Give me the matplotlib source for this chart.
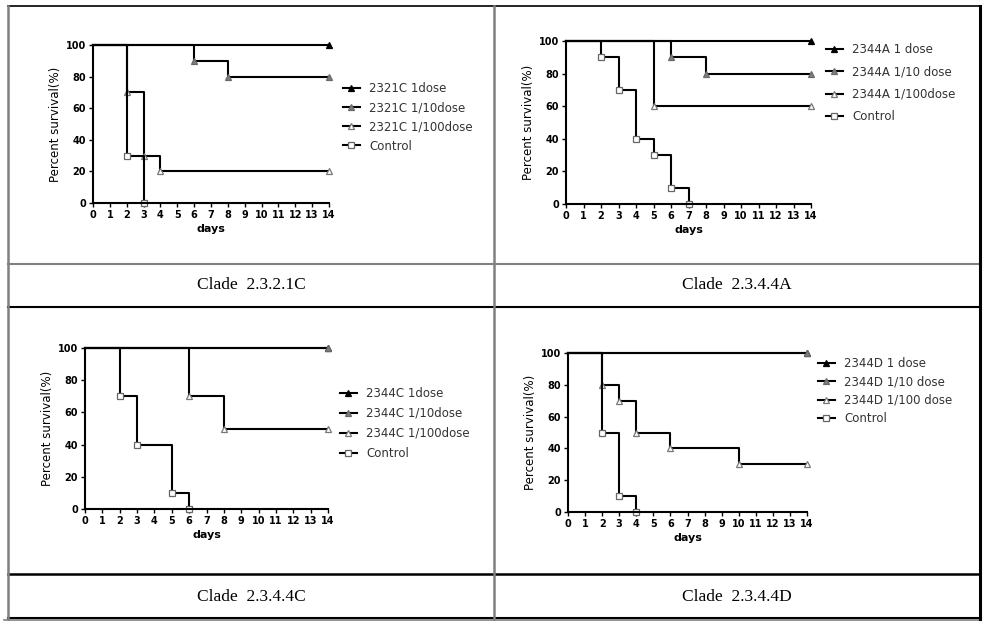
import matplotlib
matplotlib.use("Agg")
import matplotlib.pyplot as plt
from matplotlib.lines import Line2D

W, H = 994, 628

# survival data: (days, percent) per group, start at day 0 with 100%
p1_names = ["2321C 1dose", "2321C 1/10dose", "2321C 1/100dose", "Control"]
p1_days = [[0, 14], [0, 6, 8, 14], [0, 2, 3, 4, 14], [0, 2, 3]]
p1_surv = [[100, 100], [100, 90, 80, 80], [100, 70, 30, 20, 20], [100, 30, 0]]

p2_names = ["2344A 1 dose", "2344A 1/10 dose", "2344A 1/100dose", "Control"]
p2_days = [[0, 14], [0, 6, 8, 14], [0, 5, 14], [0, 2, 3, 4, 5, 6, 7]]
p2_surv = [[100, 100], [100, 90, 80, 80], [100, 60, 60], [100, 90, 70, 40, 30, 10, 0]]

p3_names = ["2344C 1dose", "2344C 1/10dose", "2344C 1/100dose", "Control"]
p3_days = [[0, 14], [0, 14], [0, 6, 8, 14], [0, 2, 3, 5, 6]]
p3_surv = [[100, 100], [100, 100], [100, 70, 50, 50], [100, 70, 40, 10, 0]]

p4_names = ["2344D 1 dose", "2344D 1/10 dose", "2344D 1/100 dose", "Control"]
p4_days = [[0, 14], [0, 14], [0, 2, 3, 4, 6, 10, 14], [0, 2, 3, 4]]
p4_surv = [[100, 100], [100, 100], [100, 80, 70, 50, 40, 30, 30], [100, 50, 10, 0]]

captions = ["Clade  2.3.2.1C", "Clade  2.3.4.4A", "Clade  2.3.4.4C", "Clade  2.3.4.4D"]

# marker style per group (1 dose, 1/10, 1/100, control)
styles = [
    dict(marker="^", mfc="black", mec="black"),
    dict(marker="^", mfc="#7f7f7f", mec="#6a6a6a"),
    dict(marker="^", mfc="white", mec="#777777"),
    dict(marker="s", mfc="white", mec="#666666"),
]


def fx(px):
    return px / W


def fy(py):
    return 1 - py / H


fig = plt.figure(figsize=(W / 100, H / 100), dpi=100)

# panel boxes in pixels: x0, x14, y100, y0, legend x, legend y, legend spacing
panels = [
    (p1_names, p1_days, p1_surv, (93, 329, 45, 203), (343, 82, 18.3)),
    (p2_names, p2_days, p2_surv, (566, 811, 41, 204), (826, 43, 21.5)),
    (p3_names, p3_days, p3_surv, (85, 328, 348, 509), (340, 387, 19)),
    (p4_names, p4_days, p4_surv, (568, 807, 353, 512), (818, 357, 17.5)),
]

for names, days, surv, box, leg in panels:
    x0, x1, y1, y0 = box
    ax = fig.add_axes([fx(x0), fy(y0), fx(x1) - fx(x0), fy(y1) - fy(y0)])
    handles = []
    for name, d, s, st in zip(names, days, surv, styles):
        h, = ax.plot(d, s, drawstyle="steps-post", color="black", lw=1.5,
                     ms=5, mew=0.9, markevery=slice(1, None), clip_on=False,
                     label=name, **st)
        handles.append(h)
    ax.set_xlim(0, 14)
    ax.set_ylim(0, 100)
    ax.set_xticks(range(0, 15))
    ax.set_yticks(range(0, 101, 20))
    for sp in ["top", "right"]:
        ax.spines[sp].set_visible(False)
    for sp in ["left", "bottom"]:
        ax.spines[sp].set_linewidth(1.5)
    ax.tick_params(direction="out", length=3, width=1, pad=2, labelsize=7)
    for lab in ax.get_xticklabels() + ax.get_yticklabels():
        lab.set_fontweight("bold")
    ax.set_xlabel("days", fontsize=8, fontweight="bold", labelpad=3)
    ax.set_ylabel("Percent survival(%)", fontsize=8.5, labelpad=3)
    lx, ly, sp_ = leg
    fig.legend(handles=handles, loc="upper left",
               bbox_to_anchor=(fx(lx), fy(ly)), frameon=False, fontsize=8.5,
               handlelength=1.4, handletextpad=0.8, borderpad=0, borderaxespad=0,
               labelspacing=(sp_ - 12) / 12, labelcolor="#333333")

# table frame
gray = "#808080"
def hline(y, x0, x1, c, lw):
    fig.add_artist(Line2D([fx(x0), fx(x1)], [fy(y), fy(y)], color=c, lw=lw))

def vline(x, y0, y1, c, lw):
    fig.add_artist(Line2D([fx(x), fx(x)], [fy(y0), fy(y1)], color=c, lw=lw))

hline(6, 8, 980, "black", 1.2)
hline(264, 8, 980, gray, 1.5)
hline(307, 8, 980, "black", 1.5)
hline(574, 8, 980, "black", 1.8)
hline(618, 8, 981, "black", 1.5)
hline(620, 4, 981, gray, 1.2)
vline(8, 6, 619, gray, 1.8)
vline(494, 6, 619, gray, 1.8)
vline(980, 6, 619, "black", 2.2)

cap_pos = [(251, 285), (737, 285), (251, 597), (737, 597)]
for text, (cx, cy) in zip(captions, cap_pos):
    fig.text(fx(cx), fy(cy), text, ha="center", va="center",
             family="Liberation Serif", fontsize=12.5)

fig.savefig("out.png", dpi=100)
